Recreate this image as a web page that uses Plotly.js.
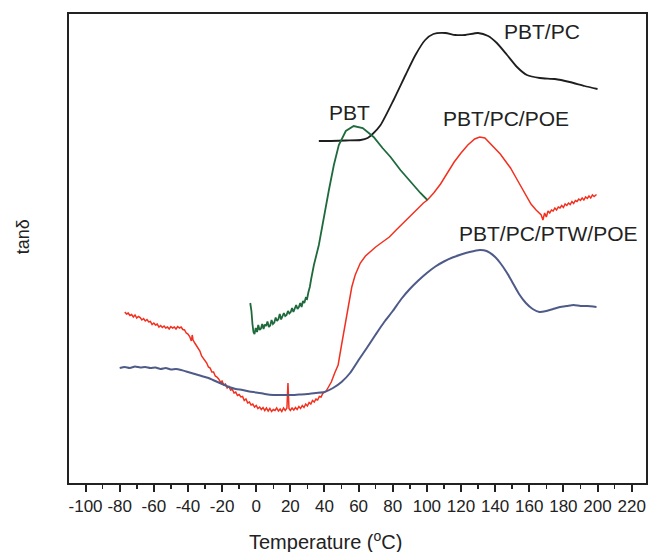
<!DOCTYPE html>
<html>
<head>
<meta charset="utf-8">
<script src="https://cdn.plot.ly/plotly-3.0.1.min.js"></script>
<style>html,body{margin:0;padding:0;background:#fff;}#chart{width:649px;height:552px;}</style>
</head>
<body>
<div id="chart"></div>
<script>
// Temperature (°C) and tanδ (arbitrary units)
const pbtPcT = [36.7, 43.7, 52.5, 61.2, 65.3, 68.2, 72.9, 80.5, 87.5, 93.3, 99, 103.8, 110.8, 116.6, 122.4, 130, 135.9, 141, 147, 152.8, 158.6, 166.2, 175, 183.7, 192.4, 200];
const pbtPcV = [0.738, 0.738, 0.739, 0.740, 0.744, 0.752, 0.770, 0.820, 0.870, 0.910, 0.940, 0.952, 0.954, 0.950, 0.950, 0.954, 0.948, 0.934, 0.910, 0.886, 0.870, 0.864, 0.862, 0.856, 0.848, 0.842];

const pbtT = [-3.5, -2.8, -2.2, -1.6, -1.0, -0.3, 0.5, 1.2, 2.0, 2.8, 3.5, 4.3, 5.0, 5.8, 6.6, 7.4, 8.2, 9.0, 9.8, 10.6, 11.4, 12.2, 13.0, 13.8, 14.6, 15.4, 16.2, 17.0, 17.8, 18.6, 19.4, 20.2, 21.0, 21.8, 22.6, 23.4, 24.2, 25.0, 25.8, 26.6, 27.4, 28.2, 29.0, 29.8, 30.6, 31.4, 32.2, 33.8, 36.7, 39.7, 42.6, 45.5, 48.4, 52.5, 57.1, 62.4, 68.8, 74, 78.7, 84.5, 90.4, 96.2, 100.3];
const pbtV = [0.414, 0.398, 0.372, 0.356, 0.352, 0.364, 0.356, 0.370, 0.360, 0.363, 0.372, 0.362, 0.371, 0.368, 0.377, 0.366, 0.369, 0.380, 0.372, 0.375, 0.385, 0.378, 0.382, 0.392, 0.381, 0.386, 0.394, 0.388, 0.390, 0.398, 0.393, 0.396, 0.404, 0.396, 0.402, 0.410, 0.402, 0.406, 0.414, 0.406, 0.418, 0.414, 0.424, 0.422, 0.436, 0.446, 0.462, 0.490, 0.530, 0.590, 0.640, 0.690, 0.730, 0.758, 0.768, 0.764, 0.746, 0.724, 0.706, 0.680, 0.656, 0.634, 0.620];

const poeT = [-77, -76, -75, -74, -73, -72, -71, -70, -69, -68, -67, -66, -65, -64, -63, -62, -61, -60, -59, -58, -57, -56, -55, -54, -53, -52, -51, -50, -49, -48, -47, -46, -45, -44, -43, -42, -41, -40, -39, -38, -37.5, -37, -36, -35, -34, -33, -32, -31, -30, -29, -28, -27, -26, -25, -24, -23, -22, -21, -20, -19, -18, -17, -16, -15, -14, -13, -12, -11, -10, -9, -8, -7, -6, -5, -4, -3, -2, -1, 0, 1, 2, 3, 4, 5, 6, 7, 8, 9, 10, 11, 12, 13, 14, 15, 16, 17, 18, 18.6, 19.2, 20, 21, 22, 23, 24, 25, 26, 27, 28, 29, 30, 31, 32, 33, 34, 35, 36, 37, 38, 39, 40, 41, 42, 44, 46, 48, 50, 52, 54, 56, 58, 61, 64, 67, 70, 74, 78, 82, 86, 90, 94, 98, 100.3, 104, 108, 112, 116, 120, 124, 128, 131, 134, 137, 140, 143, 146, 149, 152, 155, 158, 161, 164, 166, 167, 168, 169, 170, 171, 172, 173, 174, 175, 176, 177, 178, 179, 180, 181, 182, 183, 184, 185, 186, 187, 188, 189, 190, 191, 192, 193, 194, 195, 196, 197, 198, 199.4];
const poeV = [0.396, 0.392, 0.394, 0.389, 0.391, 0.386, 0.390, 0.384, 0.387, 0.385, 0.380, 0.383, 0.378, 0.381, 0.376, 0.377, 0.371, 0.374, 0.370, 0.372, 0.366, 0.369, 0.365, 0.368, 0.364, 0.366, 0.362, 0.367, 0.364, 0.366, 0.362, 0.367, 0.364, 0.366, 0.361, 0.360, 0.354, 0.352, 0.347, 0.338, 0.350, 0.340, 0.334, 0.328, 0.322, 0.318, 0.308, 0.304, 0.298, 0.294, 0.286, 0.284, 0.276, 0.276, 0.268, 0.266, 0.262, 0.256, 0.258, 0.250, 0.252, 0.244, 0.247, 0.240, 0.241, 0.234, 0.236, 0.229, 0.231, 0.226, 0.227, 0.219, 0.222, 0.214, 0.216, 0.210, 0.212, 0.206, 0.209, 0.203, 0.206, 0.201, 0.205, 0.199, 0.204, 0.198, 0.203, 0.197, 0.201, 0.199, 0.204, 0.198, 0.202, 0.197, 0.204, 0.199, 0.204, 0.254, 0.203, 0.199, 0.204, 0.200, 0.205, 0.201, 0.207, 0.203, 0.209, 0.205, 0.212, 0.208, 0.215, 0.212, 0.219, 0.216, 0.222, 0.220, 0.227, 0.226, 0.233, 0.236, 0.238, 0.244, 0.256, 0.274, 0.290, 0.330, 0.370, 0.410, 0.446, 0.470, 0.494, 0.508, 0.518, 0.526, 0.536, 0.546, 0.560, 0.574, 0.588, 0.602, 0.614, 0.620, 0.634, 0.652, 0.674, 0.696, 0.714, 0.730, 0.742, 0.746, 0.744, 0.734, 0.722, 0.712, 0.698, 0.684, 0.666, 0.648, 0.630, 0.612, 0.600, 0.594, 0.590, 0.580, 0.594, 0.586, 0.598, 0.594, 0.600, 0.598, 0.604, 0.600, 0.606, 0.604, 0.609, 0.605, 0.612, 0.609, 0.614, 0.611, 0.617, 0.613, 0.619, 0.617, 0.622, 0.619, 0.624, 0.620, 0.626, 0.623, 0.628, 0.624, 0.630, 0.627, 0.631, 0.628];

const ptwT = [-80, -77, -74, -71, -68, -65, -62, -59, -56, -53, -50, -47, -44, -41, -38, -35, -32, -28, -24, -20, -16, -12, -8, -4, 0, 5, 10, 15, 20, 25, 30, 35, 40, 45, 50, 55, 60, 65, 70, 75, 80, 85, 90, 95, 100, 105, 110, 115, 120, 125, 131, 135, 140, 143, 147, 150, 154, 158, 162, 166, 170, 174, 178, 182, 186, 190, 194, 199.4];
const ptwV = [0.284, 0.286, 0.284, 0.287, 0.285, 0.286, 0.284, 0.285, 0.282, 0.284, 0.281, 0.282, 0.280, 0.277, 0.274, 0.271, 0.268, 0.264, 0.258, 0.252, 0.246, 0.242, 0.240, 0.237, 0.235, 0.232, 0.230, 0.230, 0.230, 0.231, 0.232, 0.234, 0.236, 0.244, 0.256, 0.274, 0.300, 0.325, 0.351, 0.376, 0.398, 0.422, 0.442, 0.459, 0.474, 0.487, 0.497, 0.505, 0.511, 0.516, 0.520, 0.518, 0.506, 0.494, 0.474, 0.456, 0.432, 0.414, 0.402, 0.396, 0.398, 0.402, 0.406, 0.408, 0.410, 0.408, 0.408, 0.406];

const tickVals = [-100, -80, -60, -40, -20, 0, 20, 40, 60, 80, 100, 120, 140, 160, 180, 200, 220];
const tickText = ['-100', '-80', '-60', '-40', '-20', '0', '20', '40', '60', '80', '100', '120', '140', '160', '180', '200', '220'];
const labelNames = ['PBT/PC', 'PBT', 'PBT/PC/POE', 'PBT/PC/PTW/POE'];
const labelT = [167.5, 54.5, 146.3, 171.5];
const labelV = [0.958, 0.796, 0.783, 0.553];

const FONT = 'Liberation Sans, Arial, sans-serif';

const traces = [
  {x: pbtPcT, y: pbtPcV, mode: 'lines', line: {color: '#1e1e1e', width: 1.8, shape: 'spline', smoothing: 0.6}, name: 'PBT/PC'},
  {x: poeT, y: poeV, mode: 'lines', line: {color: '#f2301f', width: 1.5}, name: 'PBT/PC/POE'},
  {x: ptwT, y: ptwV, mode: 'lines', line: {color: '#4e5a88', width: 2, shape: 'spline', smoothing: 0.6}, name: 'PBT/PC/PTW/POE'},
  {x: pbtT, y: pbtV, mode: 'lines', line: {color: '#1f6a3d', width: 1.8}, name: 'PBT'}
];

const annotations = labelNames.map((t, i) => ({
  x: labelT[i], y: labelV[i], xref: 'x', yref: 'y', text: t, showarrow: false,
  font: {family: FONT, size: 21, color: '#222'}
}));
annotations.push({
  x: 0, xref: 'paper', xanchor: 'center', xshift: -46, y: 0.524, yref: 'paper',
  text: 'tanδ', textangle: -90, showarrow: false,
  font: {family: FONT, size: 18, color: '#222'}
});
annotations.push({
  x: 0.5, xref: 'paper', xanchor: 'center', xshift: -32, y: 0, yref: 'paper', yanchor: 'middle', yshift: -57,
  text: 'Temperature (<sup>o</sup>C)', showarrow: false,
  font: {family: FONT, size: 20, color: '#222'}
});

const layout = {
  width: 649, height: 552,
  margin: {l: 69, r: 3, t: 14, b: 69},
  paper_bgcolor: '#fff', plot_bgcolor: '#fff',
  showlegend: false,
  font: {family: FONT, color: '#222'},
  xaxis: {
    range: [-109.7, 228.4], tickmode: 'array', tickvals: tickVals, ticktext: tickText, tickangle: 0,
    ticks: 'outside', ticklen: 7, tickwidth: 2, tickcolor: '#222',
    minor: {dtick: 10, tick0: 0, ticks: 'outside', ticklen: 4, tickwidth: 1.5, tickcolor: '#222', showgrid: false},
    showline: true, mirror: true, linecolor: '#222', linewidth: 2,
    showgrid: false, zeroline: false,
    tickfont: {family: FONT, size: 17, color: '#222'},
    automargin: false
  },
  yaxis: {
    range: [0.054, 0.992], showticklabels: false, ticks: '',
    showline: true, mirror: true, linecolor: '#222', linewidth: 2,
    showgrid: false, zeroline: false, automargin: false
  },
  annotations: annotations
};

Plotly.newPlot('chart', traces, layout, {displayModeBar: false, staticPlot: true});
</script>
</body>
</html>
